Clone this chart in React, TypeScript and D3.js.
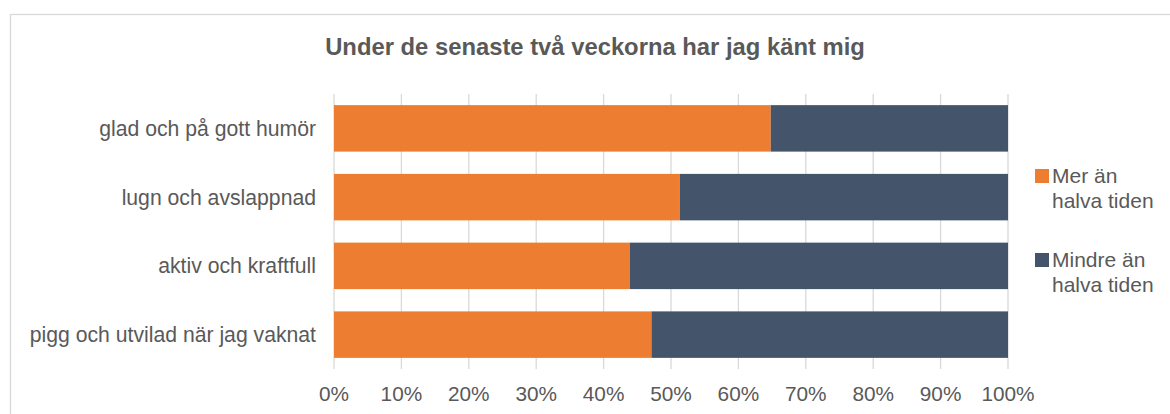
import React from "react";
import * as d3 from "d3";

const categories = [
  "glad och på gott humör",
  "lugn och avslappnad",
  "aktiv och kraftfull",
  "pigg och utvilad när jag vaknat",
];
const merAnHalva = [0.648, 0.513, 0.439, 0.471];
const mindreAnHalva = [0.352, 0.487, 0.561, 0.529];
const seriesNames = [["Mer än", "halva tiden"], ["Mindre än", "halva tiden"]];
const seriesColors = ["#ED7D31", "#44546A"];
const ticks = [0, 0.1, 0.2, 0.3, 0.4, 0.5, 0.6, 0.7, 0.8, 0.9, 1.0];
const title = "Under de senaste två veckorna har jag känt mig";

const W = 1170;
const H = 414;
const FONT = "'Liberation Sans', Arial, sans-serif";
const TEXT = "#595959";
const GRID = "#D9D9D9";

export default function App() {
  const x = d3.scaleLinear().domain([0, 1]).range([334, 1008]);
  const y = d3
    .scaleBand<string>()
    .domain(categories)
    .range([94, 369])
    .paddingInner(0.324)
    .paddingOuter(0.162);
  const stackData = categories.map((c, i) => ({ cat: c, a: merAnHalva[i], b: mindreAnHalva[i] }));
  const stack = d3.stack<any>().keys(["a", "b"])(stackData);
  const fmt = d3.format(".0%");

  return (
    <svg
      width={W}
      height={H}
      style={{ position: "fixed", left: 0, top: 0, background: "#fff" }}
      fontFamily={FONT}
    >
      <rect x={10.5} y={14.5} width={W + 10} height={H + 10} fill="#fff" stroke={GRID} strokeWidth={1.3} />
      <text x={595} y={55} textAnchor="middle" fontSize={23.8} fontWeight="bold" fill={TEXT}>
        {title}
      </text>
      {ticks.map((t) => (
        <line key={t} x1={x(t)} x2={x(t)} y1={94} y2={369} stroke={GRID} strokeWidth={1.3} />
      ))}
      {stack.map((s, si) =>
        s.map((d, i) => (
          <rect
            key={si + "-" + i}
            x={x(d[0])}
            width={x(d[1]) - x(d[0])}
            y={y(categories[i])!}
            height={y.bandwidth()}
            fill={seriesColors[si]}
          />
        ))
      )}
      {categories.map((c) => (
        <text
          key={c}
          x={316}
          y={y(c)! + y.bandwidth() / 2 + 7.5}
          textAnchor="end"
          fontSize={21.2}
          fill={TEXT}
        >
          {c}
        </text>
      ))}
      {ticks.map((t) => (
        <text key={"l" + t} x={x(t)} y={401} textAnchor="middle" fontSize={20.8} fill={TEXT}>
          {fmt(t)}
        </text>
      ))}
      {seriesNames.map((lines, i) => {
        const top = 169 + i * 84;
        return (
          <g key={i}>
            <rect x={1035} y={top} width={14} height={14} fill={seriesColors[i]} />
            {lines.map((ln, j) => (
              <text key={j} x={1052} y={top + 14 + j * 25} fontSize={21} fill={TEXT}>
                {ln}
              </text>
            ))}
          </g>
        );
      })}
    </svg>
  );
}
